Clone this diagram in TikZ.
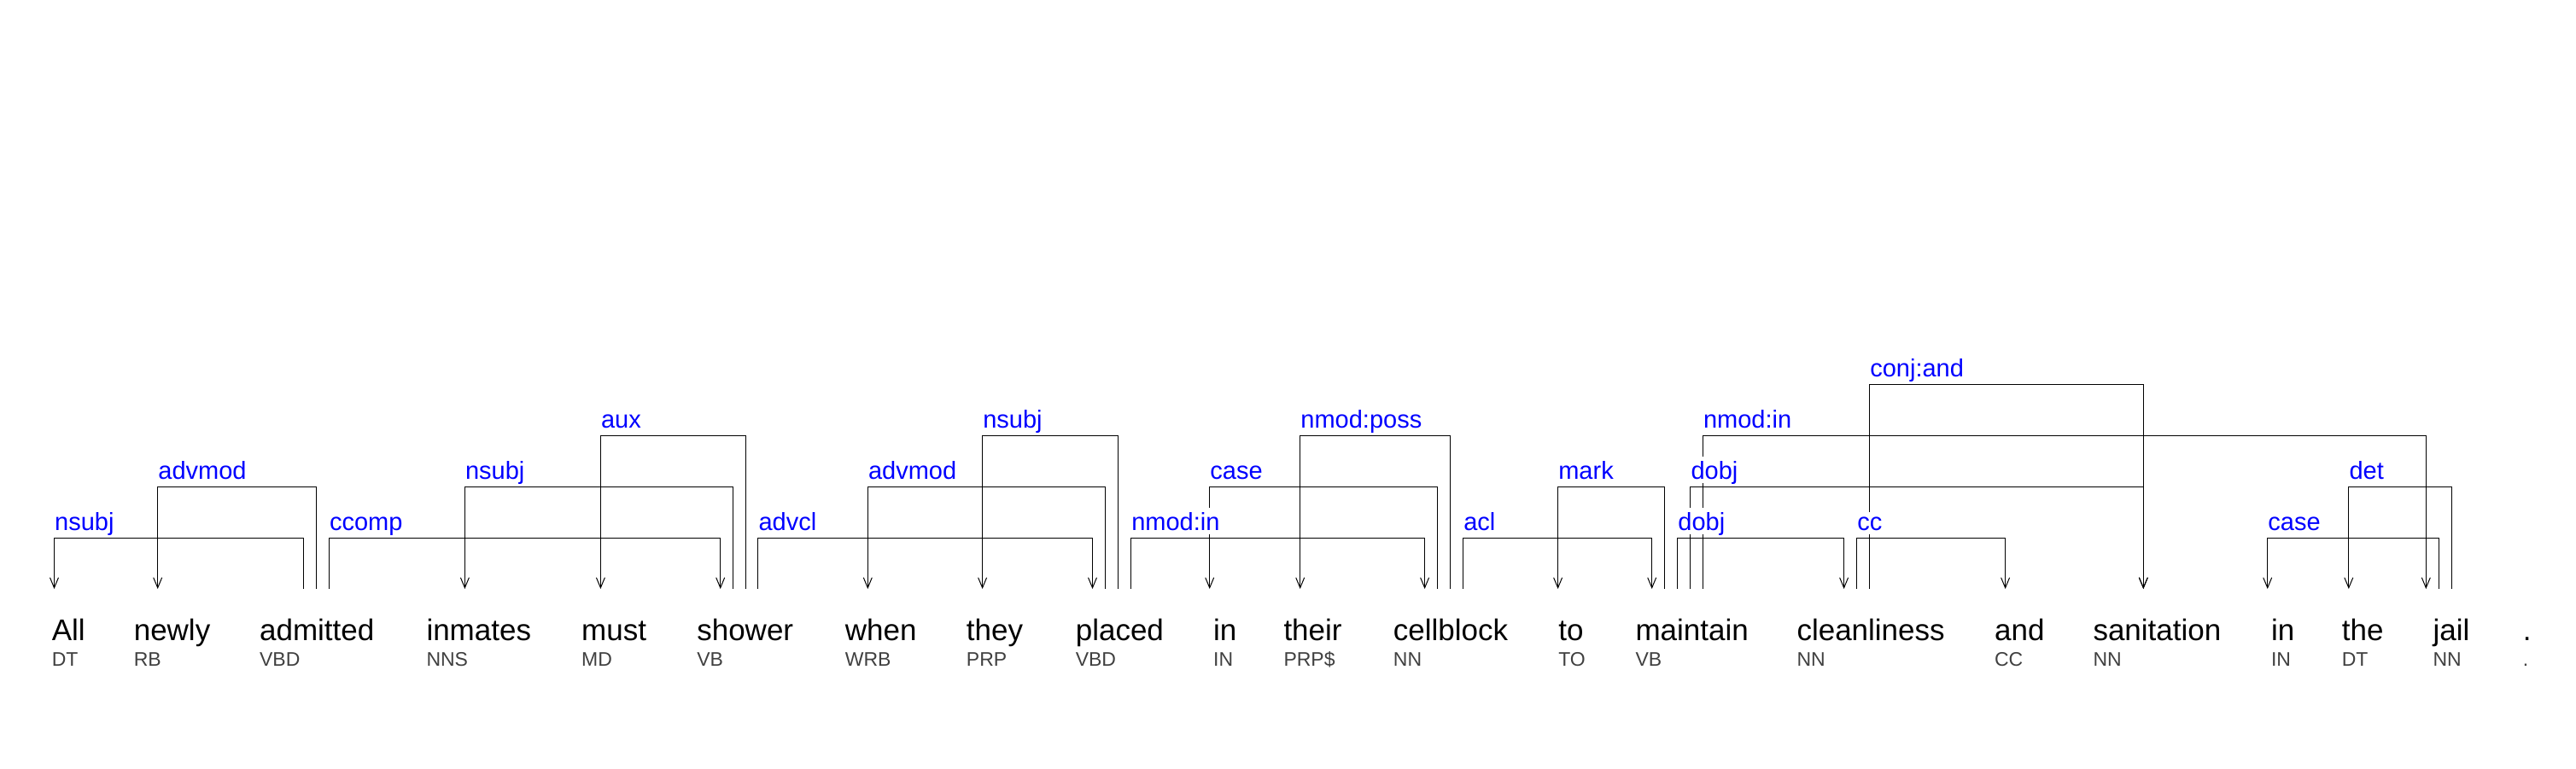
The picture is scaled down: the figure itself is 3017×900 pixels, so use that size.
\documentclass[tikz,border=0pt]{standalone}
\usepackage{fontspec}
\setmainfont{Liberation Sans}
\usetikzlibrary{arrows.meta}
\definecolor{labblue}{RGB}{0,0,255}
\definecolor{taggray}{RGB}{64,64,64}
\begin{document}
\begin{tikzpicture}[x=1pt,y=-1pt,
  word/.style={anchor=base west, inner sep=0pt, font=\fontsize{35}{42}\selectfont},
  postag/.style={anchor=base west, inner sep=0pt, text=taggray, font=\fontsize{23}{28}\selectfont},
  lab/.style={anchor=base west, inner xsep=0.5pt, inner ysep=5pt, text depth=-2pt, fill=white, text=labblue, font=\fontsize{29}{35}\selectfont},
  dep/.style={draw=black, line width=1pt, -{Straight Barb[length=12pt,width=10pt]}}]
\fill[white] (0,0) rectangle (3017,900);
\useasboundingbox (0,0) rectangle (3017,900);
% levels
\coordinate (L1) at (0,630);
\coordinate (L2) at (0,570);
\coordinate (L3) at (0,510);
\coordinate (L4) at (0,450);
% words
\node[word] (w1) at (60.6,750) {All};
\node[word] (w2) at (156.6,750) {newly};
\node[word] (w3) at (303.9,750) {admitted};
\node[word] (w4) at (499.3,750) {inmates};
\node[word] (w5) at (681,750) {must};
\node[word] (w6) at (816.1,750) {shower};
\node[word] (w7) at (989.6,750) {when};
\node[word] (w8) at (1131.7,750) {they};
\node[word] (w9) at (1259.6,750) {placed};
\node[word] (w10) at (1421,750) {in};
\node[word] (w11) at (1503.3,750) {their};
\node[word] (w12) at (1631.7,750) {cellblock};
\node[word] (w13) at (1825.1,750) {to};
\node[word] (w14) at (1915.3,750) {maintain};
\node[word] (w15) at (2104.3,750) {cleanliness};
\node[word] (w16) at (2335.9,750) {and};
\node[word] (w17) at (2451.3,750) {sanitation};
\node[word] (w18) at (2659.8,750) {in};
\node[word] (w19) at (2742.6,750) {the};
\node[word] (w20) at (2849.4,750) {jail};
\node[word] (w21) at (2954.6,750) {.};
% tags
\node[postag] (t1) at (60.6,780) {DT};
\node[postag] (t2) at (156.6,780) {RB};
\node[postag] (t3) at (303.9,780) {VBD};
\node[postag] (t4) at (499.3,780) {NNS};
\node[postag] (t5) at (681,780) {MD};
\node[postag] (t6) at (816.1,780) {VB};
\node[postag] (t7) at (989.6,780) {WRB};
\node[postag] (t8) at (1131.7,780) {PRP};
\node[postag] (t9) at (1259.6,780) {VBD};
\node[postag] (t10) at (1421,780) {IN};
\node[postag] (t11) at (1503.3,780) {PRP\$};
\node[postag] (t12) at (1631.7,780) {NN};
\node[postag] (t13) at (1825.1,780) {TO};
\node[postag] (t14) at (1915.3,780) {VB};
\node[postag] (t15) at (2104.3,780) {NN};
\node[postag] (t16) at (2335.9,780) {CC};
\node[postag] (t17) at (2451.3,780) {NN};
\node[postag] (t18) at (2659.8,780) {IN};
\node[postag] (t19) at (2742.6,780) {DT};
\node[postag] (t20) at (2849.4,780) {NN};
\node[postag] (t21) at (2954.6,780) {.};
% attachment points (h = head end, d = dependent end)
\coordinate (h1) at (355.3,690);  \coordinate (d1) at (63.5,690);
\coordinate (h2) at (370.3,690);  \coordinate (d2) at (184.7,690);
\coordinate (h3) at (385.4,690);  \coordinate (d3) at (843.7,690);
\coordinate (h4) at (858.3,690);  \coordinate (d4) at (544.4,690);
\coordinate (h5) at (873.3,690);  \coordinate (d5) at (703.4,690);
\coordinate (h6) at (887.8,690);  \coordinate (d6) at (1279.5,690);
\coordinate (h7) at (1294.5,690); \coordinate (d7) at (1016.3,690);
\coordinate (h8) at (1309.6,690); \coordinate (d8) at (1150.6,690);
\coordinate (h9) at (1324.6,690); \coordinate (d9) at (1668.6,690);
\coordinate (h10) at (1683.6,690); \coordinate (d10) at (1416.7,690);
\coordinate (h11) at (1698.6,690); \coordinate (d11) at (1522.7,690);
\coordinate (h12) at (1713.6,690); \coordinate (d12) at (1934.7,690);
\coordinate (h13) at (1949.7,690); \coordinate (d13) at (1824.6,690);
\coordinate (h14) at (1964.7,690); \coordinate (d14) at (2159.6,690);
\coordinate (h15) at (1979.8,690); \coordinate (d15) at (2510.3,690);
\coordinate (h16) at (1994.3,690); \coordinate (d16) at (2841.3,690);
\coordinate (h17) at (2174.6,690); \coordinate (d17) at (2348.6,690);
\coordinate (h18) at (2189.6,690); \coordinate (d18) at (2510.3,690);
\coordinate (h19) at (2856.5,690); \coordinate (d19) at (2655.7,690);
\coordinate (h20) at (2871.8,690); \coordinate (d20) at (2750.8,690);
% arcs
\draw[dep] (h1) -- (h1 |- L1) -| (d1);
\draw[dep] (h2) -- (h2 |- L2) -| (d2);
\draw[dep] (h3) -- (h3 |- L1) -| (d3);
\draw[dep] (h4) -- (h4 |- L2) -| (d4);
\draw[dep] (h5) -- (h5 |- L3) -| (d5);
\draw[dep] (h6) -- (h6 |- L1) -| (d6);
\draw[dep] (h7) -- (h7 |- L2) -| (d7);
\draw[dep] (h8) -- (h8 |- L3) -| (d8);
\draw[dep] (h9) -- (h9 |- L1) -| (d9);
\draw[dep] (h10) -- (h10 |- L2) -| (d10);
\draw[dep] (h11) -- (h11 |- L3) -| (d11);
\draw[dep] (h12) -- (h12 |- L1) -| (d12);
\draw[dep] (h13) -- (h13 |- L2) -| (d13);
\draw[dep] (h14) -- (h14 |- L1) -| (d14);
\draw[dep] (h15) -- (h15 |- L2) -| (d15);
\draw[dep] (h16) -- (h16 |- L3) -| (d16);
\draw[dep] (h17) -- (h17 |- L1) -| (d17);
\draw[dep] (h18) -- (h18 |- L4) -| (d18);
\draw[dep] (h19) -- (h19 |- L1) -| (d19);
\draw[dep] (h20) -- (h20 |- L2) -| (d20);
% labels
\node[lab] (l1) at (63.5,621) {nsubj};
\node[lab] (l2) at (184.7,561) {advmod};
\node[lab] (l3) at (385.4,621) {ccomp};
\node[lab] (l4) at (544.4,561) {nsubj};
\node[lab] (l5) at (703.4,501) {aux};
\node[lab] (l6) at (887.8,621) {advcl};
\node[lab] (l7) at (1016.3,561) {advmod};
\node[lab] (l8) at (1150.6,501) {nsubj};
\node[lab] (l9) at (1324.6,621) {nmod:in};
\node[lab] (l10) at (1416.7,561) {case};
\node[lab] (l11) at (1522.7,501) {nmod:poss};
\node[lab] (l12) at (1713.6,621) {acl};
\node[lab] (l13) at (1824.6,561) {mark};
\node[lab] (l14) at (1964.7,621) {dobj};
\node[lab] (l15) at (1979.8,561) {dobj};
\node[lab] (l16) at (1994.3,501) {nmod:in};
\node[lab] (l17) at (2174.6,621) {cc};
\node[lab] (l18) at (2189.6,441) {conj:and};
\node[lab] (l19) at (2655.7,621) {case};
\node[lab] (l20) at (2750.8,561) {det};
\end{tikzpicture}
\end{document}
